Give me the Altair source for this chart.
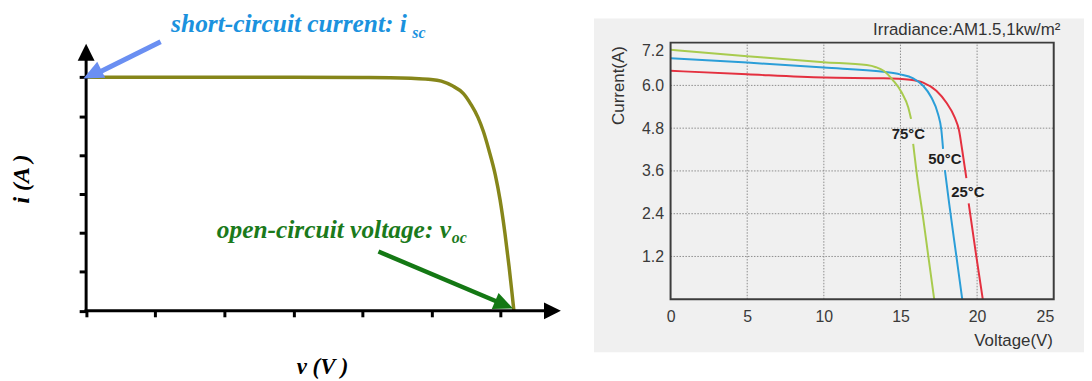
import altair as alt
import pandas as pd

# ---------------- left panel: schematic I-V curve (tick units) ----------------
L_U = [0, 1, 2, 3, 4, 4.4, 4.7, 4.95, 5.14, 5.3, 5.46, 5.57, 5.67, 5.75, 5.83, 5.92, 5.99, 6.06, 6.12, 6.16, 6.19]
L_I = [6, 6, 6, 6, 5.995, 5.99, 5.975, 5.95, 5.9, 5.78, 5.58, 5.3, 4.97, 4.6, 4.12, 3.5, 2.85, 2.0, 1.14, 0.5, 0]
L_TICKS = [0, 1, 2, 3, 4, 5, 6]
L_UDOM = [0, 6.87]
L_IDOM = [0, 6.86]
L_AXIS_END_U = 6.63   # x-axis line end (arrow base)
L_AXIS_END_I = 6.42   # y-axis line end (arrow base)

# annotation arrows (left panel units): start, shaft end, tip, head angle
BLUE_ARROW = {"u0": 1.078, "i0": 6.913, "u1": 0.116, "i1": 6.064, "ut": -0.039, "it": 5.97, "ang": 153.6}
GREEN_ARROW = {"u0": 4.23, "i0": 1.523, "u1": 6.019, "i1": 0.181, "ut": 6.177, "it": 0.061, "ang": 22.9}

# annotation texts (left panel units)
L_TXT = ["short-circuit current: i", "sc", "open-circuit voltage: v", "oc"]
L_TXT_U = [1.23, 4.72, 1.89, 5.29]
L_TXT_I = [7.16, 7.01, 1.87, 1.745]
L_TXT_SIZE = [25.6, 16, 25.6, 16]
L_AX_TITLES = ["i (A )", "v (V )"]
L_AX_U = [-0.92, 3.42]
L_AX_I = [3.385, -1.615]

# ---------------- right panel: measured curves ----------------
SERIES = ["25°C", "50°C", "75°C"]
V25 = [0, 5, 10, 13.9, 15.62, 16.48, 17.34, 17.99, 18.53, 18.82, 19.03, 19.3, 19.45, 19.94, 20.37]
I25 = [6.41, 6.31, 6.22, 6.2, 6.16, 6.08, 5.85, 5.52, 5.11, 4.74, 4.18, 3.4, 2.69, 1.23, 0]
BRK25 = 12
V50 = [0, 5, 10, 13.9, 14.97, 15.83, 16.48, 17.02, 17.45, 17.67, 17.78, 17.9, 18.19, 18.64, 19.03]
I50 = [6.76, 6.64, 6.50, 6.38, 6.31, 6.20, 5.99, 5.66, 5.20, 4.74, 4.22, 3.62, 2.65, 1.23, 0]
BRK50 = 11
V75 = [0, 5, 10, 12.8, 13.4, 13.9, 14.54, 15.08, 15.51, 15.69, 15.83, 16.12, 16.44, 16.81, 17.2]
I75 = [7.0, 6.82, 6.65, 6.57, 6.51, 6.41, 6.13, 5.80, 5.38, 5.06, 4.36, 3.34, 2.40, 1.23, 0]
BRK75 = 10
LAB_TXT = ["75°C", "50°C", "25°C"]
LAB_V = [15.51, 17.89, 19.4]
LAB_I = [4.64, 3.92, 3.0]
R_XTICKS = [0, 5, 10, 15, 20, 25]
R_YTICKS = [1.2, 2.4, 3.6, 4.8, 6.0, 7.2]
R_VDOM = [0, 25]
R_IDOM = [0, 7.2]
R_TXT = ["Current(A)", "Voltage(V)", "Irradiance:AM1.5,1kw/m²"]
R_TXT_V = [-3.38, 24.95, 25.44]
R_TXT_I = [7.1, -1.16, 7.55]

# ---------------- layout / style ----------------
W, H = 1084, 373
LX_RANGE = [78.7, 557.0]
LY_RANGE = [303.7, 34.7]
RX_RANGE = [667.5, 1053.5]
RY_RANGE = [292.0, 33.5]
COLORS = ["#e4303f", "#2b9ed8", "#a8cb4e"]
PANEL_BG = "#f0f0f0"
GRID = "#8c8c8c"
BORDER = "#3c3c3c"
OLIVE = "#86861a"
BLUE_TXT = "#1b92de"
BLUE_ARR = "#6a8ff2"
GREEN_TXT = "#1b7a1b"
GREEN_ARR = "#147814"
SERIF = "Liberation Serif"
SANS = "Liberation Sans"


def lxs():
    return alt.Scale(domain=L_UDOM, range=LX_RANGE, nice=False, zero=False)


def lys():
    return alt.Scale(domain=L_IDOM, range=LY_RANGE, nice=False, zero=False)


def rxs():
    return alt.Scale(domain=R_VDOM, range=RX_RANGE, nice=False, zero=False)


def rys():
    return alt.Scale(domain=R_IDOM, range=RY_RANGE, nice=False, zero=False)


def LX(f="u", axis=None):
    return alt.X(f"{f}:Q", scale=lxs(), axis=axis)


def LY(f="i", axis=None):
    return alt.Y(f"{f}:Q", scale=lys(), axis=axis)


def RX(f="v", axis=None):
    return alt.X(f"{f}:Q", scale=rxs(), axis=axis)


def RY(f="i", axis=None):
    return alt.Y(f"{f}:Q", scale=rys(), axis=axis)


layers = []

# ===== right panel =====
layers.append(
    alt.Chart(pd.DataFrame({"k": [0]})).mark_rect(color=PANEL_BG).encode(
        x=alt.value(590.3), x2=alt.value(1084), y=alt.value(9.3), y2=alt.value(345.3)
    )
)

gv = pd.DataFrame({"v": R_XTICKS[1:-1], "i0": R_IDOM[0], "i1": R_IDOM[1]})
layers.append(
    alt.Chart(gv).mark_rule(color=GRID, strokeWidth=1, strokeDash=[1.5, 1.5]).encode(
        x=RX("v"), y=RY("i0"), y2="i1:Q"
    )
)
gh = pd.DataFrame({"i": R_YTICKS[:-1], "v0": R_VDOM[0], "v1": R_VDOM[1]})
layers.append(
    alt.Chart(gh).mark_rule(color=GRID, strokeWidth=1, strokeDash=[1.5, 1.5]).encode(
        y=RY("i"), x=RX("v0"), x2="v1:Q"
    )
)

rows = []
for name, vs, cs, brk in [("25°C", V25, I25, BRK25), ("50°C", V50, I50, BRK50), ("75°C", V75, I75, BRK75)]:
    for k, (v, c) in enumerate(zip(vs, cs)):
        rows.append({"series": name, "seg": name + ("a" if k < brk else "b"), "idx": k, "v": v, "i": c})
rdf = pd.DataFrame(rows)
layers.append(
    alt.Chart(rdf).mark_line(strokeWidth=2, interpolate="monotone").encode(
        x=RX("v"),
        y=RY("i"),
        color=alt.Color("series:N", scale=alt.Scale(domain=SERIES, range=COLORS), legend=None),
        detail="seg:N",
        order="idx:Q",
    )
)

labdf = pd.DataFrame({"t": LAB_TXT, "v": LAB_V, "i": LAB_I})
layers.append(
    alt.Chart(labdf).mark_text(font=SANS, fontSize=15, fontWeight="bold", color="#1e1e1e",
                               align="center", baseline="middle").encode(
        x=RX("v"), y=RY("i"), text="t:N"
    )
)

bdf = pd.DataFrame({"v0": [R_VDOM[0]], "v1": [R_VDOM[1]], "i0": [R_IDOM[0]], "i1": [R_IDOM[1]]})
layers.append(
    alt.Chart(bdf).mark_rect(fillOpacity=0, stroke=BORDER, strokeWidth=2).encode(
        x=RX("v0", axis=alt.Axis(orient="bottom", offset=-81, values=R_XTICKS, format="d",
                                 grid=False, domain=False, ticks=False, title=None, zindex=2,
                                 labelFont=SANS, labelFontSize=16, labelColor="#3a3a3a",
                                 labelBaseline="middle", labelPadding=17,
                                 labelAlign={"condition": {"test": "datum.value == 25", "value": "right"},
                                             "value": "center"})),
        x2="v1:Q",
        y=RY("i0", axis=alt.Axis(orient="left", offset=-667.5, values=R_YTICKS, format=".1f",
                                 grid=False, domain=False, ticks=False, title=None, zindex=2,
                                 labelFont=SANS, labelFontSize=16, labelColor="#3a3a3a",
                                 labelPadding=7, labelFlush=True)),
        y2="i1:Q",
    )
)

rt = pd.DataFrame({"t": R_TXT, "v": R_TXT_V, "i": R_TXT_I})
layers.append(
    alt.Chart(rt.iloc[[0]]).mark_text(font=SANS, fontSize=17, color="#333333", angle=270,
                                      align="right", baseline="middle").encode(
        x=RX("v"), y=RY("i"), text="t:N")
)
layers.append(
    alt.Chart(rt.iloc[[1, 2]]).mark_text(font=SANS, fontSize=17, color="#333333",
                                         align="right", baseline="middle").encode(
        x=RX("v"), y=RY("i"), text="t:N")
)

# ===== left panel =====
layers.append(
    alt.Chart(pd.DataFrame({"u": L_U, "i": L_I})).mark_line(
        color=OLIVE, strokeWidth=3.5, interpolate="monotone").encode(x=LX(), y=LY())
)

axdf = pd.DataFrame({"u": [0, 0], "i": [0, 0], "u2": [0, L_AXIS_END_U], "i2": [L_AXIS_END_I, 0]})
layers.append(
    alt.Chart(axdf).mark_rule(color="black", strokeWidth=3, strokeCap="square").encode(
        x=LX("u", axis=alt.Axis(orient="bottom", offset=-69.3, values=L_TICKS, labels=False,
                                grid=False, domain=False, ticks=True, tickSize=6, tickWidth=3,
                                tickColor="black", title=None)),
        x2="u2:Q",
        y=LY("i", axis=alt.Axis(orient="left", offset=-78.7, values=L_TICKS, labels=False,
                                grid=False, domain=False, ticks=True, tickSize=7, tickWidth=3,
                                tickColor="black", title=None)),
        y2="i2:Q",
    )
)

layers.append(
    alt.Chart(pd.DataFrame({"u": [0], "i": [L_IDOM[1]]})).mark_point(
        shape="M0,0L-1,2L1,2Z", size=289, filled=True, color="black", opacity=1, strokeWidth=0
    ).encode(x=LX(), y=LY())
)
layers.append(
    alt.Chart(pd.DataFrame({"u": [L_UDOM[1]], "i": [0]})).mark_point(
        shape="M0,0L-2,-1L-2,1Z", size=289, filled=True, color="black", opacity=1, strokeWidth=0
    ).encode(x=LX(), y=LY())
)

for arr, col, width, hsize in [(BLUE_ARROW, BLUE_ARR, 5, 400), (GREEN_ARROW, GREEN_ARR, 4.5, 380)]:
    sd = pd.DataFrame({"u": [arr["u0"]], "i": [arr["i0"]], "u2": [arr["u1"]], "i2": [arr["i1"]]})
    layers.append(
        alt.Chart(sd).mark_rule(color=col, strokeWidth=width).encode(
            x=LX("u"), x2="u2:Q", y=LY("i"), y2="i2:Q")
    )
    hd = pd.DataFrame({"u": [arr["ut"]], "i": [arr["it"]]})
    layers.append(
        alt.Chart(hd).mark_point(shape="M0,0L-2,-0.9L-2,0.9Z", size=hsize, filled=True, color=col,
                                 opacity=1, strokeWidth=0, angle=arr["ang"]).encode(x=LX(), y=LY())
    )

ltd = pd.DataFrame({"t": L_TXT, "u": L_TXT_U, "i": L_TXT_I})
for idx, col in [(0, BLUE_TXT), (1, BLUE_TXT), (2, GREEN_TXT), (3, GREEN_TXT)]:
    layers.append(
        alt.Chart(ltd.iloc[[idx]]).mark_text(font=SERIF, fontStyle="italic", fontWeight="bold",
                                             fontSize=L_TXT_SIZE[idx], color=col,
                                             align="left", baseline="alphabetic").encode(
            x=LX(), y=LY(), text="t:N")
    )

atd = pd.DataFrame({"t": L_AX_TITLES, "u": L_AX_U, "i": L_AX_I})
layers.append(
    alt.Chart(atd.iloc[[0]]).mark_text(font=SERIF, fontStyle="italic", fontWeight="bold", fontSize=24,
                                       color="black", angle=270, align="center", baseline="middle").encode(
        x=LX(), y=LY(), text="t:N")
)
layers.append(
    alt.Chart(atd.iloc[[1]]).mark_text(font=SERIF, fontStyle="italic", fontWeight="bold", fontSize=23,
                                       color="black", align="center", baseline="alphabetic").encode(
        x=LX(), y=LY(), text="t:N")
)

chart = (
    alt.layer(*layers)
    .resolve_scale(x="independent", y="independent")
    .properties(width=W, height=H, autosize=alt.AutoSizeParams(type="none"), padding=0,
                background="white")
    .configure(font=SANS)
    .configure_view(stroke="transparent")
)

chart.save("out.html", embed_options={"renderer": "svg", "actions": False})
